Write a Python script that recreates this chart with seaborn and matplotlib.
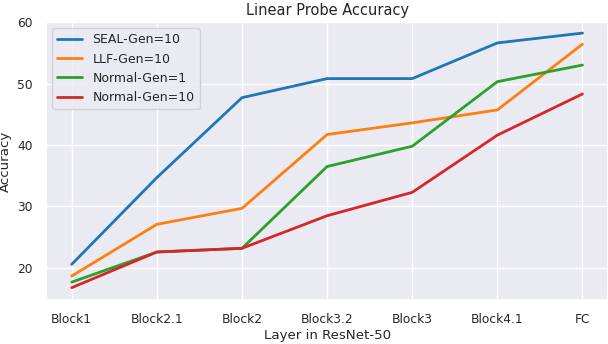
import matplotlib
matplotlib.use('Agg')
import matplotlib.pyplot as plt
import seaborn as sns
import pandas as pd

layers = ['Block1', 'Block2.1', 'Block2', 'Block3.2', 'Block3', 'Block4.1', 'FC']
seal_gen10 = [20.6, 34.7, 47.7, 50.8, 50.8, 56.6, 58.2]
llf_gen10 = [18.7, 27.1, 29.7, 41.7, 43.6, 45.7, 56.4]
normal_gen1 = [17.7, 22.6, 23.2, 36.5, 39.8, 50.3, 53.0]
normal_gen10 = [16.8, 22.6, 23.2, 28.5, 32.3, 41.6, 48.3]
series = {
    'SEAL-Gen=10': seal_gen10,
    'LLF-Gen=10': llf_gen10,
    'Normal-Gen=1': normal_gen1,
    'Normal-Gen=10': normal_gen10,
}

rows = []
for name, vals in series.items():
    for i, v in enumerate(vals):
        rows.append({'pos': i, 'Layer': layers[i], 'Accuracy': v, 'Method': name})
df = pd.DataFrame(rows)

sns.set_theme(style='darkgrid', palette='tab10', font_scale=0.8)
fig, ax = plt.subplots(figsize=(6.08, 3.44), dpi=100)
sns.lineplot(data=df, x='pos', y='Accuracy', hue='Method', sort=False,
             linewidth=2, ax=ax)
ax.set_xticks(range(len(layers)))
ax.set_xticklabels(layers)
ax.set_xlim(-0.3, 6.3)
ax.set_ylim(14.8, 60)
ax.set_yticks([20, 30, 40, 50, 60])
ax.set_xlabel('Layer in ResNet-50', labelpad=2)
ax.set_ylabel('Accuracy')
ax.set_title('Linear Probe Accuracy', fontsize=10.5, pad=5)
ax.legend(loc='upper left', title=None, fontsize=9)
fig.subplots_adjust(left=0.076, right=1.0, top=0.936, bottom=0.128)
fig.savefig('out.png', dpi=100)
